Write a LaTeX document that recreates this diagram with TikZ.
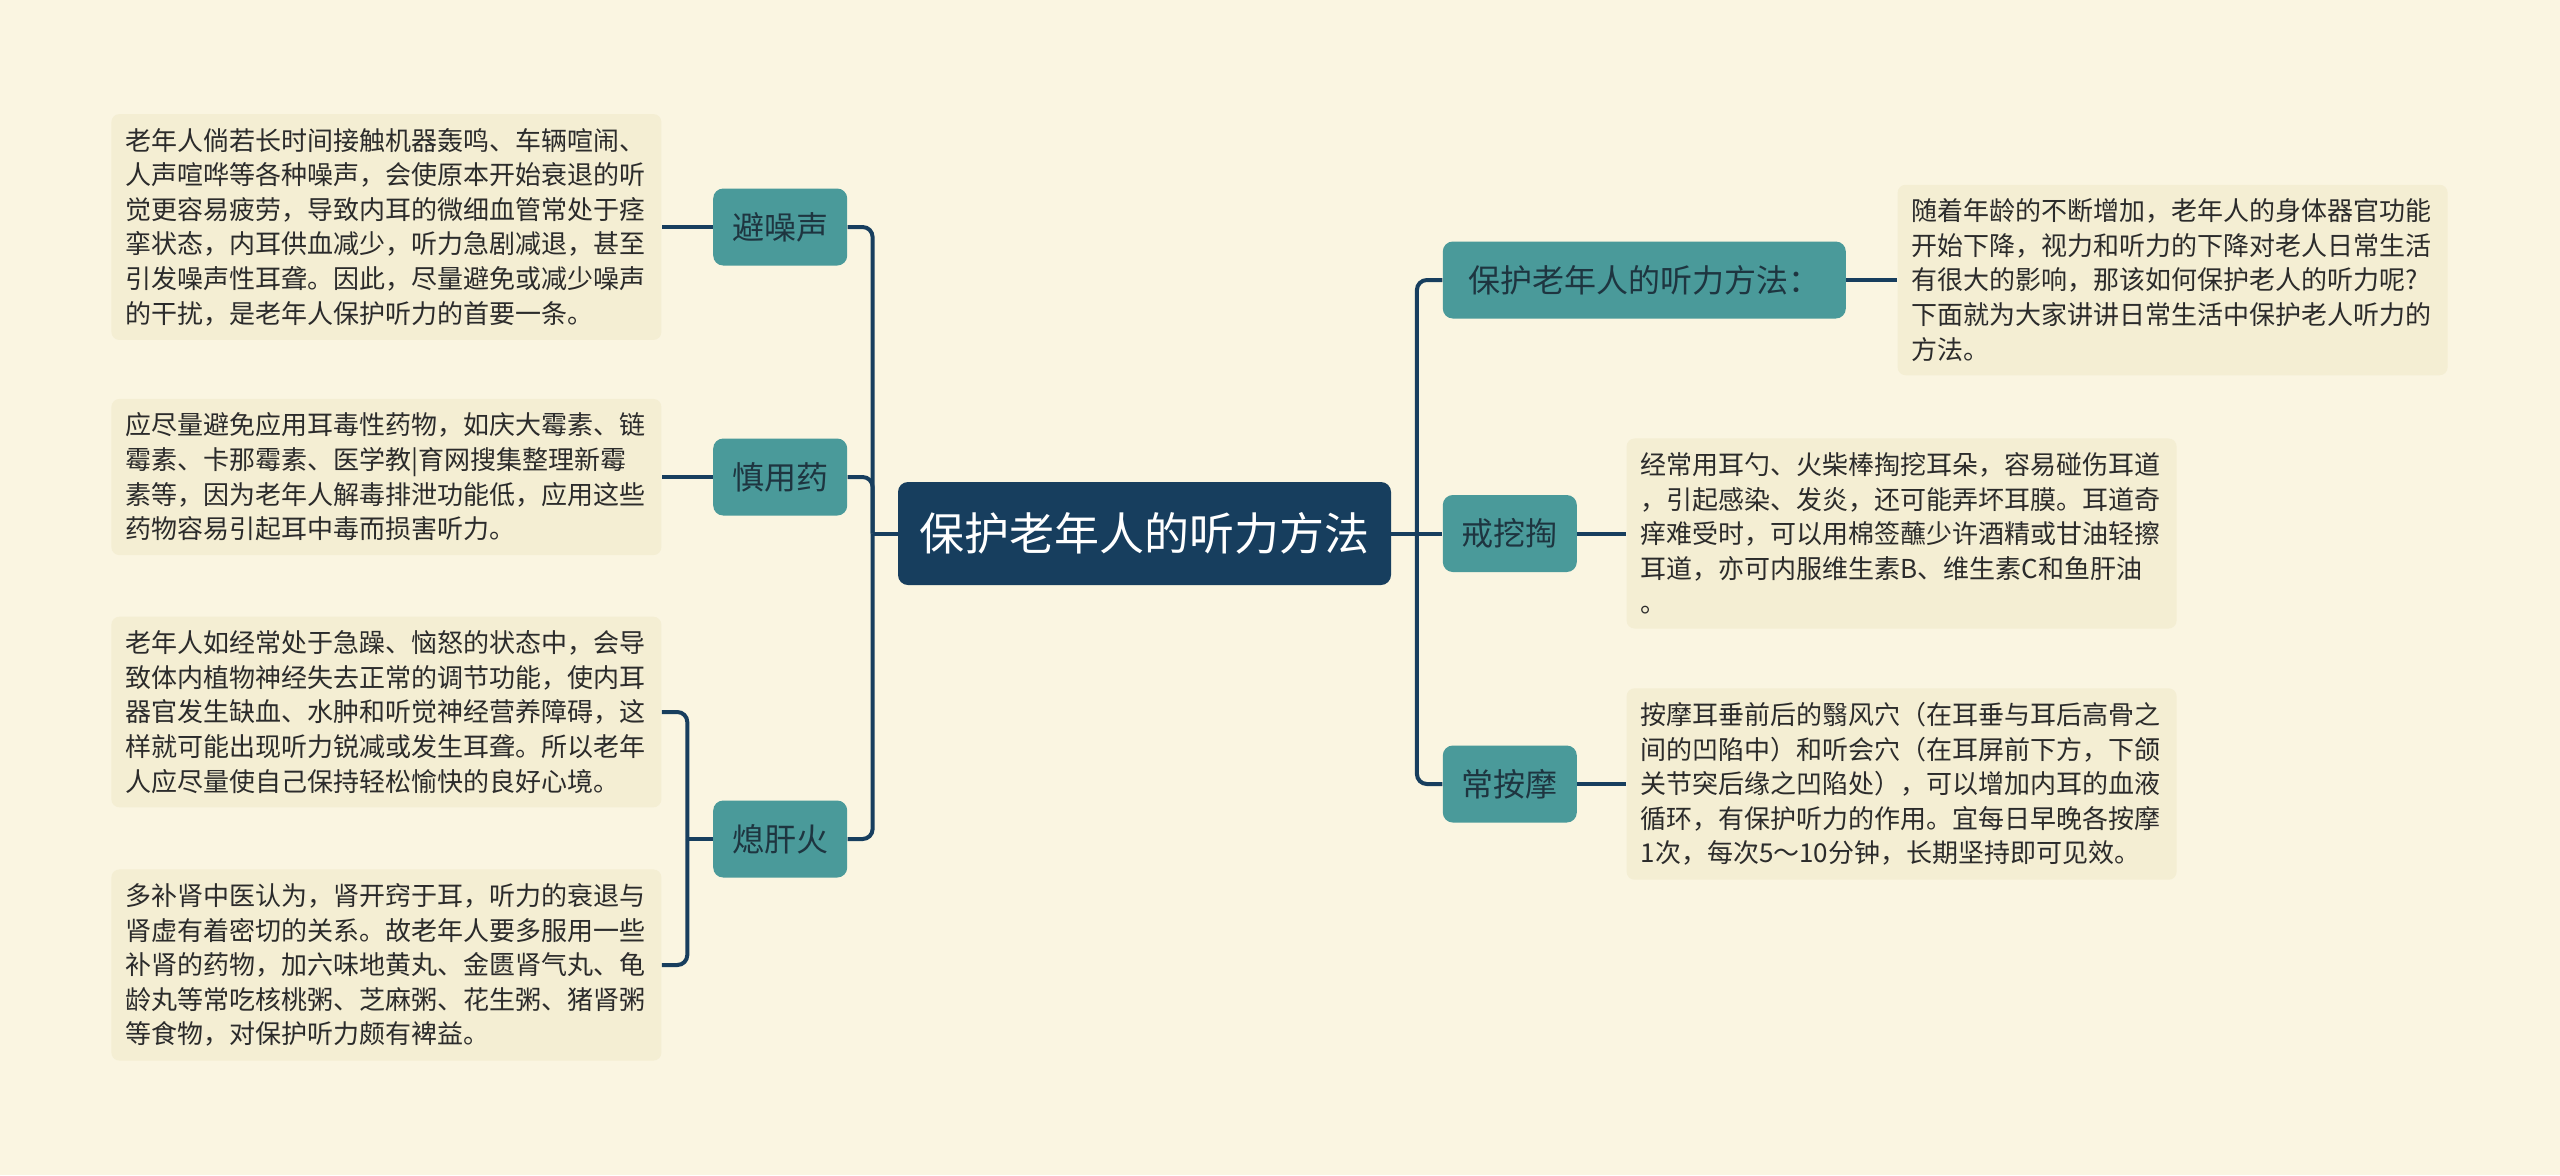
\documentclass[tikz,border=0pt]{standalone}
\usepackage{fontspec}
\setmainfont{Noto Sans CJK SC}
\usepackage{xcolor}
\usepackage{tikz}
\usetikzlibrary{positioning}

\definecolor{paper}{HTML}{FAF5E1}
\definecolor{notefill}{HTML}{F4EED3}
\definecolor{branchteal}{HTML}{4A9A9A}
\definecolor{navy}{HTML}{173E5E}
\definecolor{inkdark}{HTML}{1E3540}
\definecolor{notetext}{HTML}{2B2B2B}

\begin{document}
\begin{tikzpicture}[
maintopic/.style={fill=navy, text=white, rounded corners=5pt, minimum width=246.5pt, minimum height=51.5pt, font=\fontsize{22.5pt}{27pt}\selectfont},
subtopic/.style={fill=branchteal, text=inkdark, rounded corners=5pt, minimum width=67pt, minimum height=38.5pt, font=\fontsize{16pt}{19pt}\selectfont},
note/.style={fill=notefill, text=notetext, rounded corners=4pt, align=left, text width=261pt, inner xsep=7pt, inner ysep=7pt, font=\fontsize{13pt}{17.3pt}\selectfont},
link/.style={draw=navy, line width=2pt, rounded corners=5pt}
]
\fill[paper] (0,0) rectangle (1280pt,-587.5pt);
\useasboundingbox (0,0) rectangle (1280pt,-587.5pt);

\node[maintopic] (main) at (572.25pt,-266.75pt) {保护老年人的听力方法};
\node[subtopic, left=25pt of main, yshift=153.25pt] (noise) {避噪声};
\node[subtopic, left=25pt of main, yshift=28.25pt] (drug) {慎用药};
\node[subtopic, left=25pt of main, yshift=-152.75pt] (fire) {熄肝火};
\node[subtopic, right=25.5pt of main, yshift=126.75pt, minimum width=201.5pt] (intro) {保护老年人的听力方法：};
\node[subtopic, right=25.5pt of main] (dig) {戒挖掏};
\node[subtopic, right=25.5pt of main, yshift=-125.25pt] (massage) {常按摩};

\node[note, left=25.5pt of noise] (noisenote) {老年人倘若长时间接触机器轰鸣、车辆喧闹、\\人声喧哗等各种噪声，会使原本开始衰退的听\\觉更容易疲劳，导致内耳的微细血管常处于痉\\挛状态，内耳供血减少，听力急剧减退，甚至\\引发噪声性耳聋。因此，尽量避免或减少噪声\\的干扰，是老年人保护听力的首要一条。};
\node[note, left=25.5pt of drug] (drugnote) {应尽量避免应用耳毒性药物，如庆大霉素、链\\霉素、卡那霉素、医学教|育网搜集整理新霉\\素等，因为老年人解毒排泄功能低，应用这些\\药物容易引起耳中毒而损害听力。};
\node[note, left=25.5pt of fire, yshift=63.5pt] (angernote) {老年人如经常处于急躁、恼怒的状态中，会导\\致体内植物神经失去正常的调节功能，使内耳\\器官发生缺血、水肿和听觉神经营养障碍，这\\样就可能出现听力锐减或发生耳聋。所以老年\\人应尽量使自己保持轻松愉快的良好心境。};
\node[note, left=25.5pt of fire, yshift=-63pt] (kidneynote) {多补肾中医认为，肾开窍于耳，听力的衰退与\\肾虚有着密切的关系。故老年人要多服用一些\\补肾的药物，加六味地黄丸、金匮肾气丸、龟\\龄丸等常吃核桃粥、芝麻粥、花生粥、猪肾粥\\等食物，对保护听力颇有裨益。};
\node[note, right=25.5pt of intro] (intronote) {随着年龄的不断增加，老年人的身体器官功能\\开始下降，视力和听力的下降对老人日常生活\\有很大的影响，那该如何保护老人的听力呢?\\下面就为大家讲讲日常生活中保护老人听力的\\方法。};
\node[note, right=24.5pt of dig] (dignote) {经常用耳勺、火柴棒掏挖耳朵，容易碰伤耳道\\，引起感染、发炎，还可能弄坏耳膜。耳道奇\\痒难受时，可以用棉签蘸少许酒精或甘油轻擦\\耳道，亦可内服维生素B、维生素C和鱼肝油\\。};
\node[note, right=24.5pt of massage] (massagenote) {按摩耳垂前后的翳风穴（在耳垂与耳后高骨之\\间的凹陷中）和听会穴（在耳屏前下方，下颌\\关节突后缘之凹陷处），可以增加内耳的血液\\循环，有保护听力的作用。宜每日早晚各按摩\\1次，每次5～10分钟，长期坚持即可见效。};

\coordinate[left=12.5pt of main] (lhub);
\coordinate[right=12.75pt of main] (rhub);
\coordinate[left=12.75pt of fire] (fhub);

\draw[link] (main.west) -- (lhub);
\draw[link] (lhub) |- (noise.east);
\draw[link] (lhub) |- (drug.east);
\draw[link] (lhub) |- (fire.east);
\draw[link] (main.east) -- (rhub);
\draw[link] (rhub) |- (intro.west);
\draw[link] (rhub) -- (dig.west);
\draw[link] (rhub) |- (massage.west);
\draw[link] (noise.west) -- (noisenote.east);
\draw[link] (drug.west) -- (drugnote.east);
\draw[link] (fire.west) -- (fhub);
\draw[link] (fhub) |- (angernote.east);
\draw[link] (fhub) |- (kidneynote.east);
\draw[link] (intro.east) -- (intronote.west);
\draw[link] (dig.east) -- (dignote.west);
\draw[link] (massage.east) -- (massagenote.west);
\end{tikzpicture}
\end{document}
